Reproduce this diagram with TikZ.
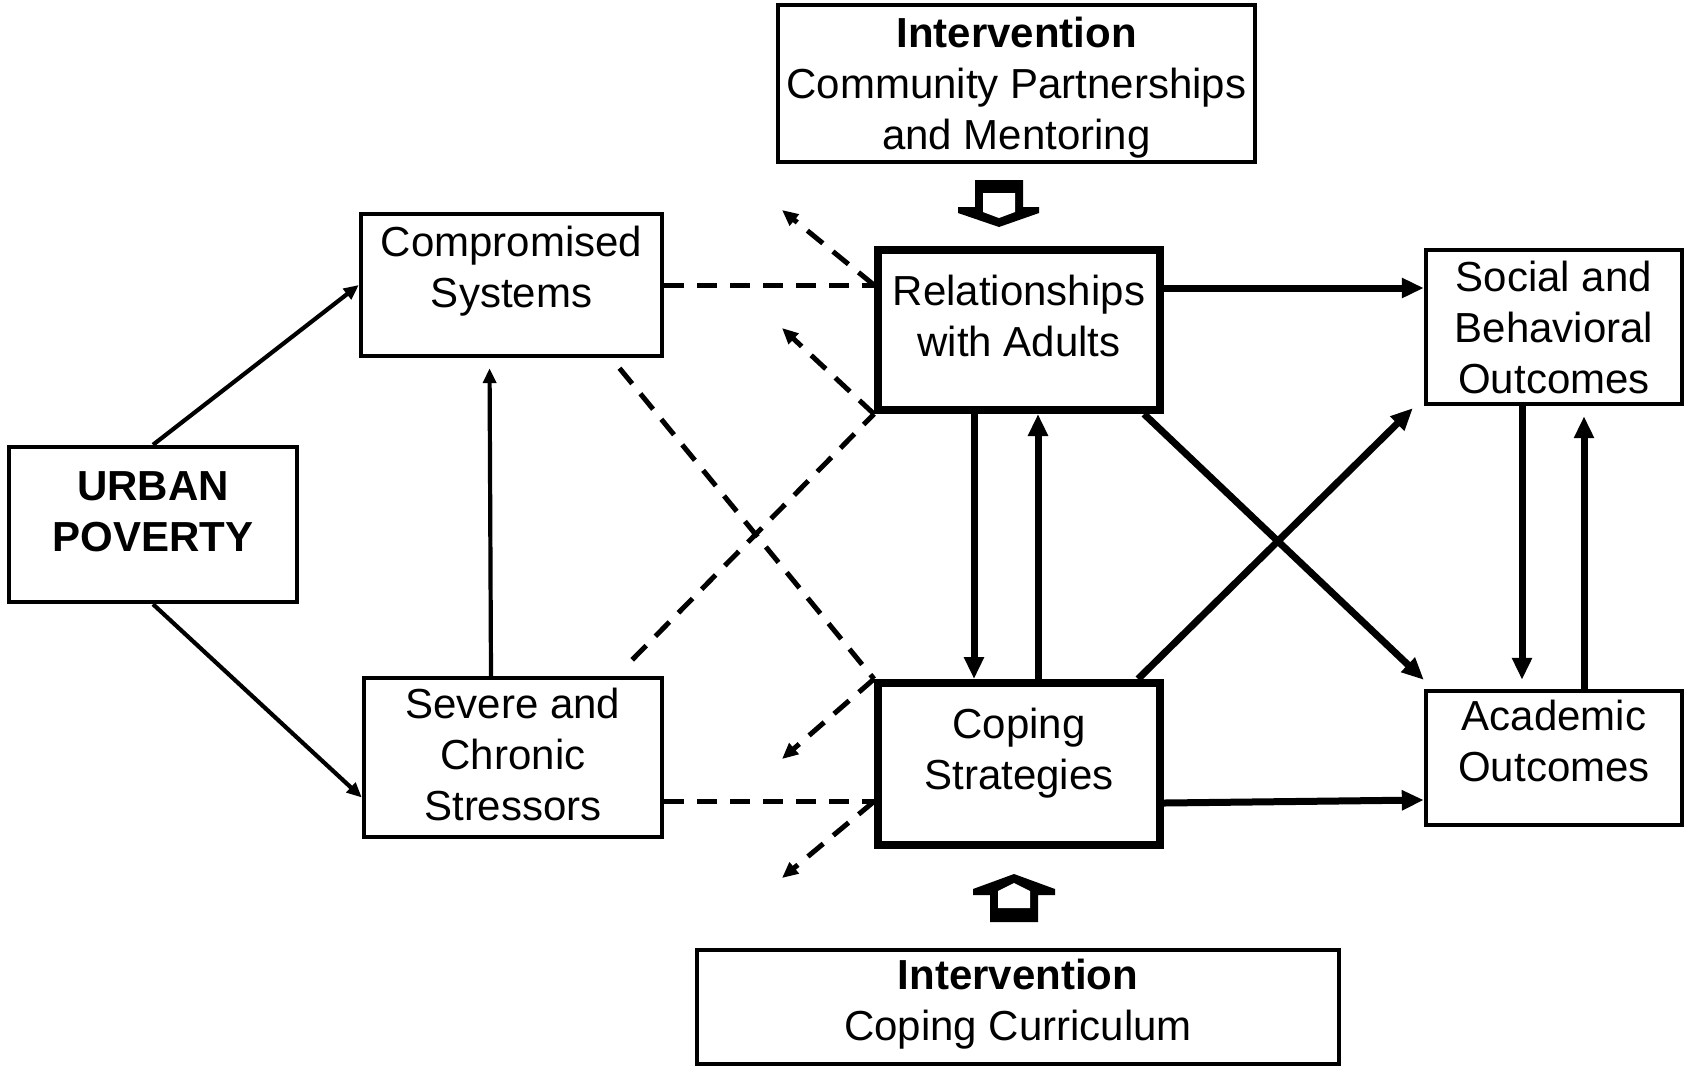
\documentclass[tikz,border=0pt]{standalone}
\usepackage{fontspec}
\setmainfont{Liberation Sans}
\usetikzlibrary{arrows.meta}

\begin{document}
\begin{tikzpicture}[x=0.5pt, y=-0.5pt,
  box/.style={draw, line width=2.2pt, align=center, inner sep=0pt,
    font=\fontsize{21}{25.5}\selectfont},
  bigbox/.style={box, line width=4pt},
  thinarrow/.style={line width=2.1pt, -{Triangle[length=7.5pt,width=6.5pt]}},
  thickarrow/.style={line width=3.5pt, -{Triangle[length=11pt,width=9.5pt]}},
  dashline/.style={line width=2.5pt, dash pattern=on 10pt off 6.5pt},
  dashout/.style={dashline, -{Triangle[length=8pt,width=7pt]}}]

  \useasboundingbox (0,0) rectangle (1685,1067);

  \node[box, minimum width=238.5pt, minimum height=78.5pt, text depth=0.6pt] (ivtop) at (1016.5, 83.5) {\textbf{Intervention}\\Community Partnerships\\and Mentoring};
  \node[box, minimum width=150.5pt, minimum height=71pt, text depth=18.4pt] (comp) at (511.5, 285) {Compromised\\Systems};
  \node[bigbox, minimum width=141pt, minimum height=80pt, text depth=14pt] (rel) at (1019, 330) {Relationships\\with Adults};
  \node[box, minimum width=128pt, minimum height=77pt] (soc) at (1554, 327) {Social and\\Behavioral\\Outcomes};
  \node[box, minimum width=143.75pt, minimum height=77.5pt, text depth=13pt,
    font=\fontsize{21}{25.5}\selectfont\bfseries] (urban) at (153, 524.5) {URBAN\\POVERTY};
  \node[box, minimum width=149pt, minimum height=79.5pt, text depth=2.8pt] (severe) at (513, 757.5) {Severe and\\Chronic\\Stressors};
  \node[bigbox, minimum width=141pt, minimum height=81pt, text depth=15.4pt] (cope) at (1019, 764) {Coping\\Strategies};
  \node[box, minimum width=128pt, minimum height=67pt, text depth=17.5pt] (acad) at (1554, 758) {Academic\\Outcomes};
  \node[box, minimum width=321pt, minimum height=57pt, text depth=7.2pt] (ivbot) at (1018, 1007) {\textbf{Intervention}\\Coping Curriculum};

  \coordinate (ra) at (comp.east -| rel.west);
  \coordinate (sd) at ([yshift=-22pt]severe.east);
  \coordinate (cd) at (sd -| cope.west);
  \coordinate (re) at ([yshift=21pt]rel.east);
  \coordinate (ta) at (782, 210);
  \coordinate (tb) at (782, 328);
  \coordinate (tc) at (782, 759);
  \coordinate (td) at (782, 878);

  \draw[thinarrow] (urban.north) -- (comp.west);
  \draw[thinarrow] (urban.south) -- ([yshift=-20pt]severe.west);
  \draw[thinarrow, shorten >=5pt] ([xshift=-11pt]severe.north) -- ([xshift=-11pt]comp.south);

  \draw[dashline] (comp.east) -- (ra);
  \draw[dashline] (sd) -- (cd);
  \draw[dashline] ([xshift=54pt,yshift=-5pt]comp.south) -- (cope.north west);
  \draw[dashline] ([xshift=-16pt,yshift=8pt]severe.north east) -- (rel.south west);
  \draw[dashout] (ra) -- (ta);
  \draw[dashout] (rel.south west) -- (tb);
  \draw[dashout] (cope.north west) -- (tc);
  \draw[dashout] (cd) -- (td);

  \draw[thickarrow] (re) -- (re -| soc.west);
  \draw[thickarrow] ([xshift=-10pt]rel.south east) -- ([yshift=4.5pt]acad.north west);
  \draw[thickarrow] ([xshift=-13pt]cope.north east) -- ([xshift=-5.5pt,yshift=-1pt]soc.south west);
  \draw[thickarrow] ([yshift=-19.5pt]cope.east) -- ([yshift=-21pt]acad.west);
  \draw[thickarrow] ([xshift=-22.5pt]rel.south) -- ([xshift=-22.5pt]cope.north);
  \draw[thickarrow] ([xshift=9.5pt]cope.north) -- ([xshift=9.5pt]rel.south);
  \draw[thickarrow, shorten >=4.5pt] ([xshift=-16pt]soc.south) -- ([xshift=-16pt]acad.north);
  \draw[thickarrow, shorten >=5pt] ([xshift=15pt]acad.north) -- ([xshift=15pt]soc.south);

  % block arrows of the two interventions
  \fill (975,180) -- (1023,180) -- (1023,207) -- (1039,207) -- (1039,213) -- (999,227)
    -- (958,213) -- (958,207) -- (975,207) -- cycle;
  \fill[white] (983,193) -- (1015,193) -- (1015,212) -- (999,218) -- (983,212) -- cycle;
  \fill (990,922) -- (1038,922) -- (1038,895) -- (1055,895) -- (1055,889) -- (1014,874)
    -- (973,889) -- (973,895) -- (990,895) -- cycle;
  \fill[white] (998,908) -- (1030,908) -- (1030,891) -- (1014,883) -- (998,891) -- cycle;

\end{tikzpicture}
\end{document}
